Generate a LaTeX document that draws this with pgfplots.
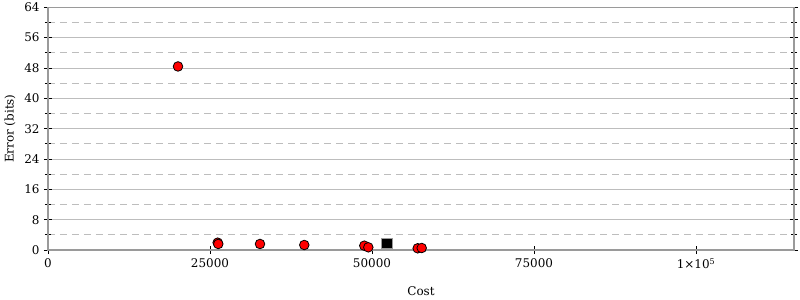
\documentclass[border=0pt]{standalone}
\usepackage{pgfplots}
\pgfplotsset{compat=1.18}
\usepackage{fontspec}
\setmainfont{DejaVu Serif}
\definecolor{gridc}{HTML}{BDBDBD}
\definecolor{axisc}{HTML}{9A9A9A}
\begin{document}
\begin{tikzpicture}
\path[use as bounding box] (-48bp,-50bp) rectangle (752bp,250bp);
\begin{axis}[
  at={(0,0)}, anchor=south west,
  scale only axis, width=746bp, height=242.7bp,
  xmin=0, xmax=115123, ymin=0, ymax=64,
  font=\fontsize{12}{14}\selectfont,
  ticklabel style={font=\fontsize{12}{14}\selectfont},
  label style={font=\fontsize{12}{14}\selectfont},
  /pgf/number format/assume math mode=true,
  scaled x ticks=false,
  xtick={0,25000,50000,75000,100000},
  xticklabels={0,25000,50000,75000,{1×10\textsuperscript{5}}},
  ytick={0,8,...,64},
  minor ytick={4,12,...,60},
  xtick pos=bottom,
  tick align=center,
  major tick length=8bp,
  minor tick length=6bp,
  tick style={black, line width=0.8pt},
  ymajorgrids, yminorgrids,
  major grid style={gridc, line width=0.8pt},
  minor grid style={gridc, dash pattern=on 7bp off 5bp, line width=0.8pt},
  axis line style={axisc, line width=1.6pt},
  xlabel={Cost}, ylabel={Error (bits)},
  xlabel style={at={(axis description cs:0.5,0)}, anchor=center, yshift=-41bp},
  ylabel style={at={(axis description cs:0,0.5)}, anchor=center, yshift=38bp},
  yticklabel style={xshift=-1bp},
  xticklabel style={yshift=-1bp},
  clip=false,
]
\addplot[only marks, mark=*, mark size=4.8bp, mark options={fill=red, draw=black, line width=0.8pt}]
  coordinates {
  (20062,48.4) (26185,1.93) (26277,1.59) (32716,1.59) (39549,1.32)
  (48811,1.14) (49429,0.71) (57052,0.45) (57669,0.53)
  };
\addplot[only marks, mark=square*, mark size=5.2bp, mark options={fill=black, draw=axisc, line width=0.6pt}]
  coordinates {(52269,1.77)};
\end{axis}
\end{tikzpicture}
\end{document}
